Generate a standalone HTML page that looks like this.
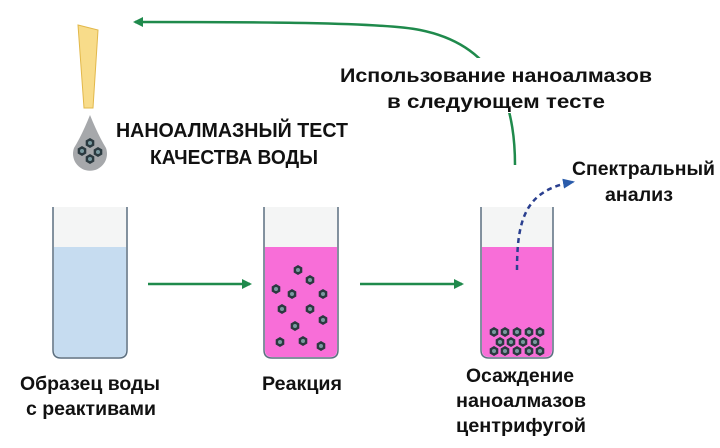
<!DOCTYPE html>
<html><head><meta charset="utf-8"><style>
body{margin:0;background:#fff;width:720px;height:443px;overflow:hidden}
text{font-family:"Liberation Sans","DejaVu Sans",sans-serif;font-weight:bold;fill:#111}
</style></head><body>
<svg width="720" height="443" viewBox="0 0 720 443">
<defs>
<g id="p"><polygon points="0,-5 4.3,-2.5 4.3,2.5 0,5 -4.3,2.5 -4.3,-2.5" fill="#2b3a40"/><circle r="2" fill="#7a9aa0"/></g>
<marker id="ga" markerWidth="10" markerHeight="10" refX="8" refY="5" orient="auto" markerUnits="userSpaceOnUse"><path d="M0,0 L10,5 L0,10 Z" fill="#1f8a4c"/></marker>
<marker id="ba" markerWidth="12" markerHeight="10" refX="10" refY="5" orient="auto" markerUnits="userSpaceOnUse"><path d="M0,0 L12,5 L0,10 Z" fill="#2a5cab"/></marker>
</defs>
<!-- pipette -->
<path d="M78,25 L98,30 L93,108 L84,108 Z" fill="#f8dc8a" stroke="#e2b84a" stroke-width="1"/>
<path d="M90,115 Q98,135 106,148 A17,17 0 1 1 74,148 Q82,135 90,115 Z" fill="#a6a8ab"/>
<use href="#p" x="90" y="143"/><use href="#p" x="82" y="151"/><use href="#p" x="98" y="152"/><use href="#p" x="90" y="159"/>
<text x="116" y="137" font-size="20" textLength="232" lengthAdjust="spacingAndGlyphs">НАНОАЛМАЗНЫЙ ТЕСТ</text>
<text x="150" y="164" font-size="20" textLength="168" lengthAdjust="spacingAndGlyphs">КАЧЕСТВА ВОДЫ</text>
<!-- top arrow -->
<path d="M515,165 C515,100 495,45 420,30 C380,22 250,22 135,22" fill="none" stroke="#1f8a4c" stroke-width="2.5" marker-end="url(#ga)"/>
<rect x="335" y="58" width="322" height="55" fill="#fff"/>
<text x="340" y="82" font-size="19" textLength="312" lengthAdjust="spacingAndGlyphs">Использование наноалмазов</text>
<text x="387" y="108" font-size="19" textLength="218" lengthAdjust="spacingAndGlyphs">в следующем тесте</text>
<!-- tube1 -->
<path d="M53,207 V350 Q53,358 61,358 H119 Q127,358 127,350 V207" fill="#f4f5f5" stroke="#5b6f80" stroke-width="1.5"/>
<path d="M54,247 H126 V350 Q126,357 119,357 H61 Q54,357 54,350 Z" fill="#c6dcf0"/>
<!-- tube2 -->
<path d="M264,207 V350 Q264,358 272,358 H330 Q338,358 338,350 V207" fill="#f4f5f5" stroke="#5b6f80" stroke-width="1.5"/>
<path d="M265,247 H337 V350 Q337,357 330,357 H272 Q265,357 265,350 Z" fill="#f86ed8"/>
<g>
<use href="#p" x="298" y="270"/><use href="#p" x="310" y="280"/><use href="#p" x="276" y="289"/><use href="#p" x="292" y="294"/><use href="#p" x="323" y="294"/>
<use href="#p" x="282" y="309"/><use href="#p" x="310" y="309"/><use href="#p" x="323" y="320"/><use href="#p" x="295" y="326"/>
<use href="#p" x="280" y="342"/><use href="#p" x="303" y="341"/><use href="#p" x="321" y="346"/>
</g>
<!-- tube3 -->
<path d="M481,207 V350 Q481,358 489,358 H545 Q553,358 553,350 V207" fill="#f4f5f5" stroke="#5b6f80" stroke-width="1.5"/>
<path d="M482,247 H552 V350 Q552,357 545,357 H489 Q482,357 482,350 Z" fill="#f86ed8"/>
<g>
<use href="#p" x="494" y="332"/><use href="#p" x="505" y="332"/><use href="#p" x="517" y="332"/><use href="#p" x="529" y="332"/><use href="#p" x="540" y="332"/>
<use href="#p" x="500" y="342"/><use href="#p" x="511" y="342"/><use href="#p" x="523" y="342"/><use href="#p" x="535" y="342"/>
<use href="#p" x="494" y="351"/><use href="#p" x="505" y="351"/><use href="#p" x="517" y="351"/><use href="#p" x="529" y="351"/><use href="#p" x="540" y="351"/>
</g>
<!-- arrows -->
<line x1="148" y1="284" x2="250" y2="284" stroke="#1f8a4c" stroke-width="2.5" marker-end="url(#ga)"/>
<line x1="360" y1="284" x2="462" y2="284" stroke="#1f8a4c" stroke-width="2.5" marker-end="url(#ga)"/>
<path d="M517,270 C517,220 525,190 573,182" fill="none" stroke="#2a3f8f" stroke-width="2.5" stroke-dasharray="5,4" marker-end="url(#ba)"/>
<text x="572" y="175" font-size="19" textLength="143" lengthAdjust="spacingAndGlyphs">Спектральный</text>
<text x="605" y="201" font-size="19" textLength="68" lengthAdjust="spacingAndGlyphs">анализ</text>
<!-- labels -->
<text x="20" y="390" font-size="19" textLength="140" lengthAdjust="spacingAndGlyphs">Образец воды</text>
<text x="26" y="415" font-size="19" textLength="130" lengthAdjust="spacingAndGlyphs">с реактивами</text>
<text x="262" y="390" font-size="19" textLength="80" lengthAdjust="spacingAndGlyphs">Реакция</text>
<text x="466" y="382" font-size="19" textLength="108" lengthAdjust="spacingAndGlyphs">Осаждение</text>
<text x="456" y="407" font-size="19" textLength="130" lengthAdjust="spacingAndGlyphs">наноалмазов</text>
<text x="456" y="432" font-size="19" textLength="130" lengthAdjust="spacingAndGlyphs">центрифугой</text>
</svg>
</body></html>
